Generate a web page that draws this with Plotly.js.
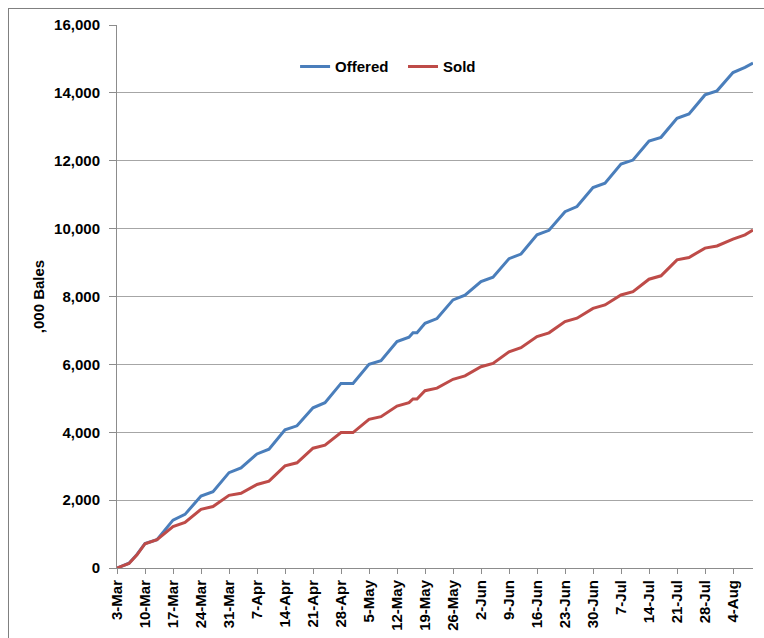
<!DOCTYPE html>
<html>
<head>
<meta charset="utf-8">
<script src="https://cdn.plot.ly/plotly-3.0.1.min.js"></script>
<style>
  html, body { margin: 0; padding: 0; background: #fff; }
  #wrap { position: relative; width: 764px; height: 638px; overflow: hidden; }
  #chart { position: absolute; left: 0; top: 0; width: 764px; height: 638px; }
  #frame { position: absolute; left: 8px; top: 8px; width: 800px; height: 700px; border-left: 1px solid #808080; border-top: 1px solid #808080; z-index: 10; pointer-events: none; }
</style>
</head>
<body>
<div id="wrap">
<div id="chart"></div>
<div id="frame"></div>
</div>
<script>
// Dates of the visible vertices (2017 calendar: 3-Mar is a Friday)
const dates = [
  '2017-03-03','2017-03-06','2017-03-08','2017-03-10','2017-03-13',
  '2017-03-17','2017-03-20','2017-03-24','2017-03-27','2017-03-31',
  '2017-04-03','2017-04-07','2017-04-10','2017-04-14','2017-04-17',
  '2017-04-21','2017-04-24','2017-04-28','2017-05-01','2017-05-05',
  '2017-05-08','2017-05-12','2017-05-15','2017-05-16','2017-05-17',
  '2017-05-19','2017-05-22','2017-05-26','2017-05-29','2017-06-02',
  '2017-06-05','2017-06-09','2017-06-12','2017-06-16','2017-06-19',
  '2017-06-23','2017-06-26','2017-06-30','2017-07-03','2017-07-07',
  '2017-07-10','2017-07-14','2017-07-17','2017-07-21','2017-07-24',
  '2017-07-28','2017-07-31','2017-08-04','2017-08-07','2017-08-09'
];
// ,000 bales (cumulative)
const offered = [
  0, 140, 400, 720, 835,
  1410, 1580, 2120, 2250, 2810,
  2950, 3360, 3500, 4070, 4190,
  4720, 4870, 5440, 5440, 6000,
  6110, 6670, 6800, 6935, 6935,
  7210, 7350, 7900, 8040, 8440,
  8570, 9115, 9250, 9820, 9950,
  10500, 10650, 11210, 11340, 11900,
  12020, 12580, 12690, 13250, 13380,
  13940, 14060, 14600, 14750, 14880
];
const sold = [
  0, 135, 390, 715, 835,
  1220, 1340, 1730, 1810, 2140,
  2200, 2460, 2560, 3010, 3100,
  3530, 3620, 3990, 3990, 4380,
  4460, 4770, 4870, 4980, 4980,
  5225, 5300, 5560, 5660, 5930,
  6030, 6370, 6490, 6820, 6930,
  7260, 7360, 7650, 7750, 8045,
  8145, 8510, 8610, 9080, 9150,
  9425, 9490, 9690, 9815, 9960
];
const seriesNames = ['Offered', 'Sold'];
const yTitle = ',000 Bales';

const font = 'Liberation Sans, Arial, sans-serif';
const fs = 15;
const legendFont = { family: font, size: fs, color: '#000', weight: 'bold' };

const traces = [
  { x: dates, y: offered, name: seriesNames[0], type: 'scatter', mode: 'lines',
    line: { color: '#4a7ebb', width: 3 }, legend: 'legend' },
  { x: dates, y: sold, name: seriesNames[1], type: 'scatter', mode: 'lines',
    line: { color: '#be4b48', width: 3 }, legend: 'legend2' }
];

const layout = {
  width: 764, height: 638,
  margin: { l: 117, r: 11, t: 25, b: 70 },
  paper_bgcolor: '#ffffff',
  plot_bgcolor: 'rgba(0,0,0,0)',
  font: { family: font, size: fs, color: '#000' },
  showlegend: true,
  legend: {
    orientation: 'h', x: 0.28, xanchor: 'left', y: 0.923, yanchor: 'middle',
    font: legendFont, bgcolor: 'rgba(0,0,0,0)', itemwidth: 30
  },
  legend2: {
    orientation: 'h', x: 0.4497, xanchor: 'left', y: 0.923, yanchor: 'middle',
    font: legendFont, bgcolor: 'rgba(0,0,0,0)', itemwidth: 30
  },
  // outer chart-area frame: left and top edges (the others run off the picture)
  shapes: [
    { type: 'line', xref: 'paper', yref: 'paper', x0: -0.1706, x1: -0.1706, y0: -0.2, y1: 1.0304,
      line: { color: '#808080', width: 1 }, layer: 'above' },
    { type: 'line', xref: 'paper', yref: 'paper', x0: -0.1706, x1: 1.1, y0: 1.0304, y1: 1.0304,
      line: { color: '#808080', width: 1 }, layer: 'above' }
  ],
  xaxis: {
    type: 'date',
    range: ['2017-03-03', '2017-08-09'],
    tick0: '2017-03-03', dtick: 7 * 86400000,
    tickformat: '%-d-%b', tickangle: -90,
    tickfont: { family: font, size: fs, color: '#000', weight: 'bold' },
    ticks: 'outside', ticklen: 5, tickcolor: '#8c8c8c', tickwidth: 1,
    showline: true, linecolor: '#8c8c8c', linewidth: 1,
    showgrid: false, zeroline: false, automargin: false
  },
  yaxis: {
    range: [0, 16000], dtick: 2000, tickformat: ',d',
    tickfont: { family: font, size: fs, color: '#000', weight: 'bold' },
    ticks: 'outside', ticklen: 7, tickcolor: '#8c8c8c', tickwidth: 1,
    ticklabelstandoff: 6,
    showline: true, linecolor: '#8c8c8c', linewidth: 1,
    showgrid: true, gridcolor: '#a6a6a6', gridwidth: 1,
    zeroline: false, automargin: false,
    title: { text: yTitle, font: { family: font, size: fs, color: '#000', weight: 'bold' }, standoff: 5 }
  }
};

Plotly.newPlot('chart', traces, layout, { displayModeBar: false, staticPlot: true });
</script>
</body>
</html>
